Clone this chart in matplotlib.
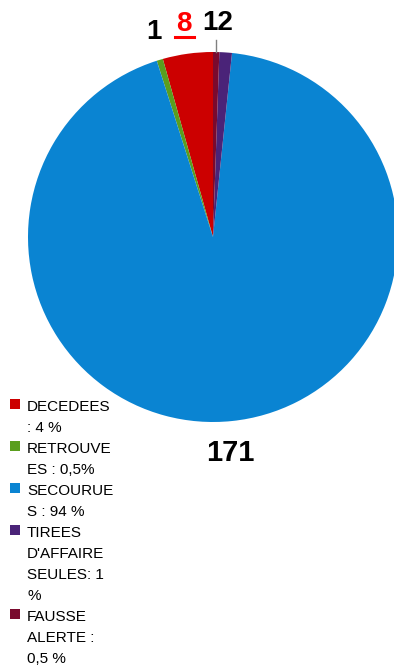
import matplotlib.pyplot as plt
from matplotlib.patches import Rectangle
from matplotlib.lines import Line2D

plt.rcParams["font.family"] = ["Liberation Sans", "DejaVu Sans"]

categories = ["DECEDEES", "RETROUVEES", "SECOURUES", "TIREES D'AFFAIRE SEULES", "FAUSSE ALERTE"]
counts = [8, 1, 171, 2, 1]
legend_labels = [
    "DECEDEES\n: 4 %",
    "RETROUVE\nES : 0,5%",
    "SECOURUE\nS : 94 %",
    "TIREES\nD'AFFAIRE\nSEULES: 1\n%",
    "FAUSSE\nALERTE :\n0,5 %",
]
colors = ["#CC0000", "#5A9E1E", "#0A84D2", "#4A2378", "#7A0A2E"]

W, H = 394, 666
fig = plt.figure(figsize=(W / 100, H / 100), dpi=100)

# pie: centre (213, 237) px, radius 185 px
cx, cy, r = 213, 237, 185
ax = fig.add_axes([(cx - r) / W, (H - cy - r) / H, 2 * r / W, 2 * r / H])
ax.pie(counts, colors=colors, startangle=90, counterclock=True, radius=1,
       wedgeprops=dict(linewidth=0))
ax.set_xlim(-1, 1)
ax.set_ylim(-1, 1)
ax.set_aspect("equal")
ax.axis("off")

# value labels (baseline-anchored)
lab_kw = dict(fontweight="bold", ha="center", va="baseline", clip_on=False)
ax.text(-0.319, 1.070, str(counts[1]), color="black", fontsize=20, **lab_kw)
ax.text(-0.157, 1.114, str(counts[0]), color="#FF0000", fontsize=20, **lab_kw)
ax.add_line(Line2D([-0.205, -0.102], [1.083, 1.083], color="#FF0000", lw=2.2, clip_on=False))
ax.text(0.027, 1.119, f"{counts[4]}{counts[3]}", color="black", fontsize=20, **lab_kw)
ax.add_line(Line2D([0.016, 0.016], [1.065, 1.0], color="#808080", lw=1, clip_on=False))
ax.text(0.092, -1.211, str(counts[2]), color="black", fontsize=21, **lab_kw)

# legend drawn by hand, wrapped labels on an even line grid
first_line = 406
line_h = 21
row = 0
for lab, col in zip(legend_labels, colors):
    y0 = first_line + row * line_h
    fig.patches.append(Rectangle((10 / W, (H - y0 - 3) / H), 10 / W, 10 / H,
                                 transform=fig.transFigure, color=col, lw=0))
    for line in lab.split("\n"):
        y = first_line + row * line_h
        fig.text(27 / W, (H - y - 5) / H, line, fontsize=11,
                 ha="left", va="baseline", color="black")
        row += 1

fig.savefig("out.png", dpi=100)
